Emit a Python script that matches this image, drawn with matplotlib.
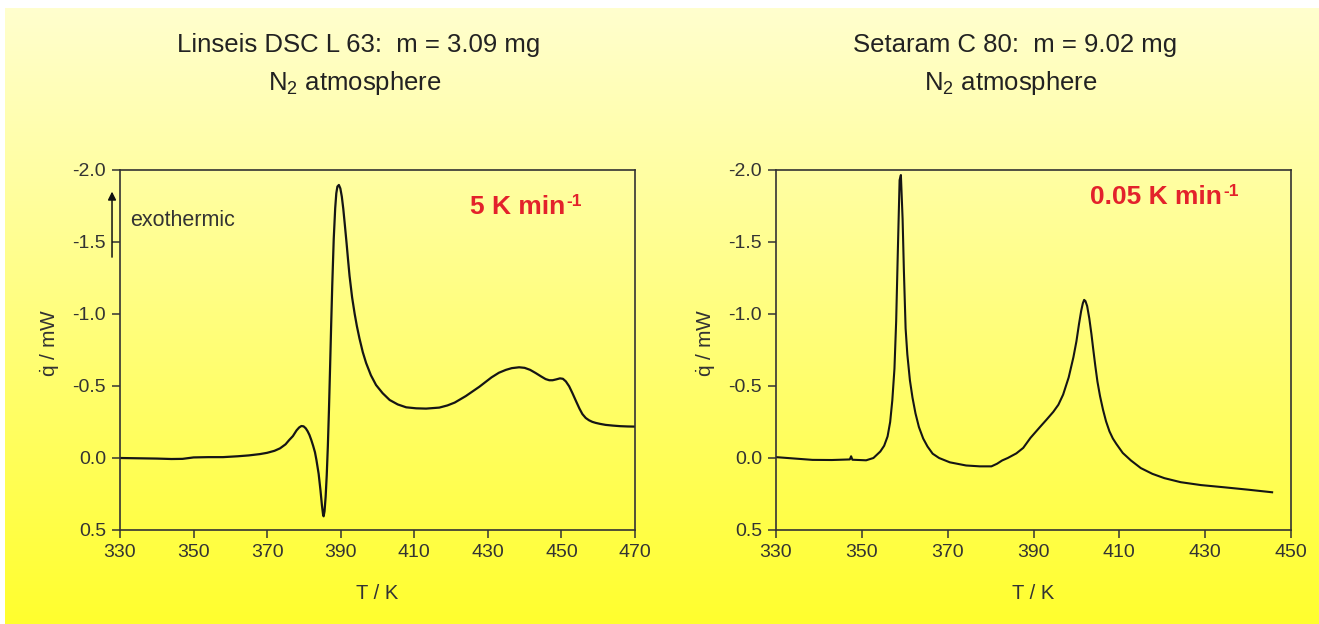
import matplotlib
matplotlib.use("Agg")
import matplotlib.pyplot as plt
import numpy as np

plt.rcParams['font.family'] = ['Liberation Sans', 'DejaVu Sans']
plt.rcParams['mathtext.fontset'] = 'custom'
plt.rcParams['mathtext.rm'] = 'Liberation Sans'
plt.rcParams['mathtext.bf'] = 'Liberation Sans:bold'
plt.rcParams['axes.unicode_minus'] = False

# DSC trace, Linseis L 63, 5 K/min
T_fast = [330, 335, 340, 344, 347, 350, 354, 358, 362, 365, 368, 370, 372, 373.5,
          375, 376, 377, 378, 378.7, 379.3, 379.9, 380.5, 381.0, 381.5, 382.0, 382.5,
          383.0, 383.4, 384.0, 384.5, 384.9, 385.2, 385.35, 385.6, 385.9, 386.2,
          386.5, 386.8, 387.1, 387.4, 387.7, 388.1, 388.5, 388.8, 389.1, 389.5,
          389.9, 390.3, 390.7, 391.1, 391.6, 392.0, 392.4, 393.1, 393.8, 394.4,
          395.1, 396.0, 396.9, 398.2, 399.6, 401.4, 403.3, 405.5, 407.8, 410.5,
          413.2, 416.8, 419, 421, 424, 427.7, 431, 433, 434.9, 436.5, 438.5, 440,
          441.5, 443.0, 444.5, 445.7, 446.7, 447.6, 448.6, 449.6, 450.4, 451.2,
          452.1, 453.0, 454.0, 454.9, 455.7, 456.6, 457.5, 458.4, 459.3, 460.5,
          462, 464, 466, 468, 470]
q_fast = [0.000, 0.002, 0.004, 0.007, 0.006, -0.004, -0.006, -0.006, -0.012, -0.018,
          -0.027, -0.036, -0.050, -0.067, -0.095, -0.125, -0.152, -0.192, -0.212,
          -0.222, -0.220, -0.206, -0.186, -0.160, -0.125, -0.085, -0.040, 0.014,
          0.110, 0.225, 0.330, 0.392, 0.405, 0.370, 0.270, 0.120, -0.080, -0.330,
          -0.620, -0.920, -1.200, -1.520, -1.735, -1.838, -1.885, -1.896, -1.872,
          -1.815, -1.730, -1.625, -1.490, -1.375, -1.265, -1.115, -1.000, -0.915,
          -0.830, -0.735, -0.660, -0.575, -0.507, -0.450, -0.403, -0.372, -0.352,
          -0.345, -0.343, -0.350, -0.365, -0.385, -0.430, -0.495, -0.560, -0.592,
          -0.612, -0.624, -0.630, -0.626, -0.612, -0.590, -0.566, -0.548, -0.540,
          -0.540, -0.546, -0.553, -0.550, -0.532, -0.498, -0.450, -0.393, -0.343,
          -0.305, -0.278, -0.262, -0.251, -0.244, -0.237, -0.230, -0.225, -0.221,
          -0.219, -0.218]

# Setaram C 80, 0.05 K/min
T_slow = [330, 334, 338.5, 343, 347.2, 347.5, 347.8, 351, 352.7, 354.3, 355.2, 356.0,
          356.6, 357.1, 357.6, 358.0, 358.4, 358.8, 359.1, 359.5, 359.8, 360.2,
          360.6, 361.2, 361.8, 362.5, 363.3, 364.3, 365.3, 366.5, 368.0, 370.5,
          374.3, 377.5, 380.2, 381.5, 382.7, 384.0, 386.0, 387.6, 389.3, 391.5,
          393.0, 394.6, 395.8, 396.9, 398.2, 399.3, 400.0, 400.6, 401.1, 401.5,
          401.8, 402.1, 402.5, 403.0, 403.5, 403.9, 404.4, 404.9, 405.5, 406.2,
          406.9, 407.7, 408.5, 409.3, 410.8, 412.7, 415.0, 417.7, 420.5, 424.3,
          429.0, 434.3, 440.0, 445.6]
q_slow = [-0.006, 0.003, 0.013, 0.014, 0.010, -0.012, 0.012, 0.016, 0.000, -0.045,
          -0.085, -0.150, -0.250, -0.400, -0.620, -0.950, -1.450, -1.930, -1.965,
          -1.660, -1.300, -0.900, -0.720, -0.540, -0.420, -0.310, -0.215, -0.135,
          -0.080, -0.030, 0.000, 0.030, 0.052, 0.058, 0.058, 0.040, 0.017, 0.000,
          -0.032, -0.070, -0.140, -0.215, -0.265, -0.320, -0.370, -0.440, -0.560,
          -0.700, -0.810, -0.930, -1.020, -1.075, -1.098, -1.090, -1.055, -0.970,
          -0.860, -0.760, -0.640, -0.530, -0.430, -0.335, -0.255, -0.185, -0.135,
          -0.098, -0.035, 0.017, 0.070, 0.110, 0.140, 0.168, 0.188, 0.203, 0.220,
          0.238]

titles = [("Linseis DSC L 63:  m = 3.09 mg", 359), ("Setaram C 80:  m = 9.02 mg", 1015)]
rates = ["5 K min", "0.05 K min"]
xticks_fast = np.arange(330, 471, 20)
xticks_slow = np.arange(330, 451, 20)
yticks = [0.5, 0.0, -0.5, -1.0, -1.5, -2.0]

W, H = 1319, 624
fig = plt.figure(figsize=(W / 100, H / 100), dpi=100)
fig.patch.set_facecolor('white')

# pale-to-bright yellow backdrop
bg = fig.add_axes([5 / W, 0, 1 - 5 / W, 1 - 8 / H])
grad = np.linspace(0, 1, 256)[:, None]
top = np.array([255, 254, 206]) / 255
bot = np.array([255, 255, 46]) / 255
img = top[None, None, :] * (1 - grad[..., None]) + bot[None, None, :] * grad[..., None]
img = np.repeat(img, 2, axis=1)
bg.imshow(img, aspect='auto', extent=[0, 1, 0, 1], origin='upper')
bg.set_axis_off()

ax1 = fig.add_axes([120 / W, 1 - 530 / H, 515 / W, 360 / H])
ax2 = fig.add_axes([776 / W, 1 - 530 / H, 515 / W, 360 / H])

ax1.plot(T_fast, q_fast, color='#151515', lw=1.6)
ax2.plot(T_slow, q_slow, color='#151515', lw=1.5)

for ax, xt in [(ax1, xticks_fast), (ax2, xticks_slow)]:
    ax.set_facecolor('none')
    ax.set_xlim(xt[0], xt[-1])
    ax.set_ylim(0.5, -2.0)
    ax.set_xticks(xt)
    ax.set_yticks(yticks)
    ax.set_yticklabels(["%.1f" % v for v in yticks])
    ax.tick_params(direction='out', length=6, width=1.1, color='#333333',
                   labelsize=14, labelcolor='#333333', pad=4)
    for s in ax.spines.values():
        s.set_color('#333333')
        s.set_linewidth(1.2)
    ax.set_xlabel("T / K", fontsize=14.5, color='#333333')
    ax.xaxis.set_label_coords(0.5, -0.15)
    ax.set_ylabel(r"$\dot{\mathregular{q}}$ / mW", fontsize=15, color='#333333')
    ax.yaxis.set_label_coords(-0.115, 0.52)

for (txt, cx) in titles:
    fig.text(cx / W, 1 - 45 / H, txt, ha='center', va='center', fontsize=18.5, color='#222222')
    fig.text(cx / W - 4 / W, 1 - 83 / H, r"N$_\mathregular{2}$ atmosphere", ha='center',
             va='center', fontsize=18.5, color='#222222')

# heating rate labels with a hyphen superscript
for ax, txt, pos in [(ax1, rates[0], (0.68, 0.897)), (ax2, rates[1], (0.61, 0.925))]:
    t = ax.text(pos[0], pos[1], txt, transform=ax.transAxes, color='#e3222b',
                fontsize=19, fontweight='bold', va='center', ha='left')
    ax.annotate("-1", xy=(1.0, 1.0), xycoords=t, xytext=(1, 1), textcoords='offset points',
                color='#e3222b', fontsize=12.5, fontweight='bold', va='top', ha='left')

# exothermic direction marker
ax1.annotate("", xy=(-0.0155, 0.94), xytext=(-0.0155, 0.758), xycoords='axes fraction',
             textcoords='axes fraction', annotation_clip=False,
             arrowprops=dict(arrowstyle='-|>', color='#111111', lw=1.1,
                             mutation_scale=12, shrinkA=0, shrinkB=0))
ax1.text(0.0194, 0.861, "exothermic", transform=ax1.transAxes, fontsize=15.5,
         color='#333333', va='center', ha='left')

fig.savefig("out.png", dpi=100)
